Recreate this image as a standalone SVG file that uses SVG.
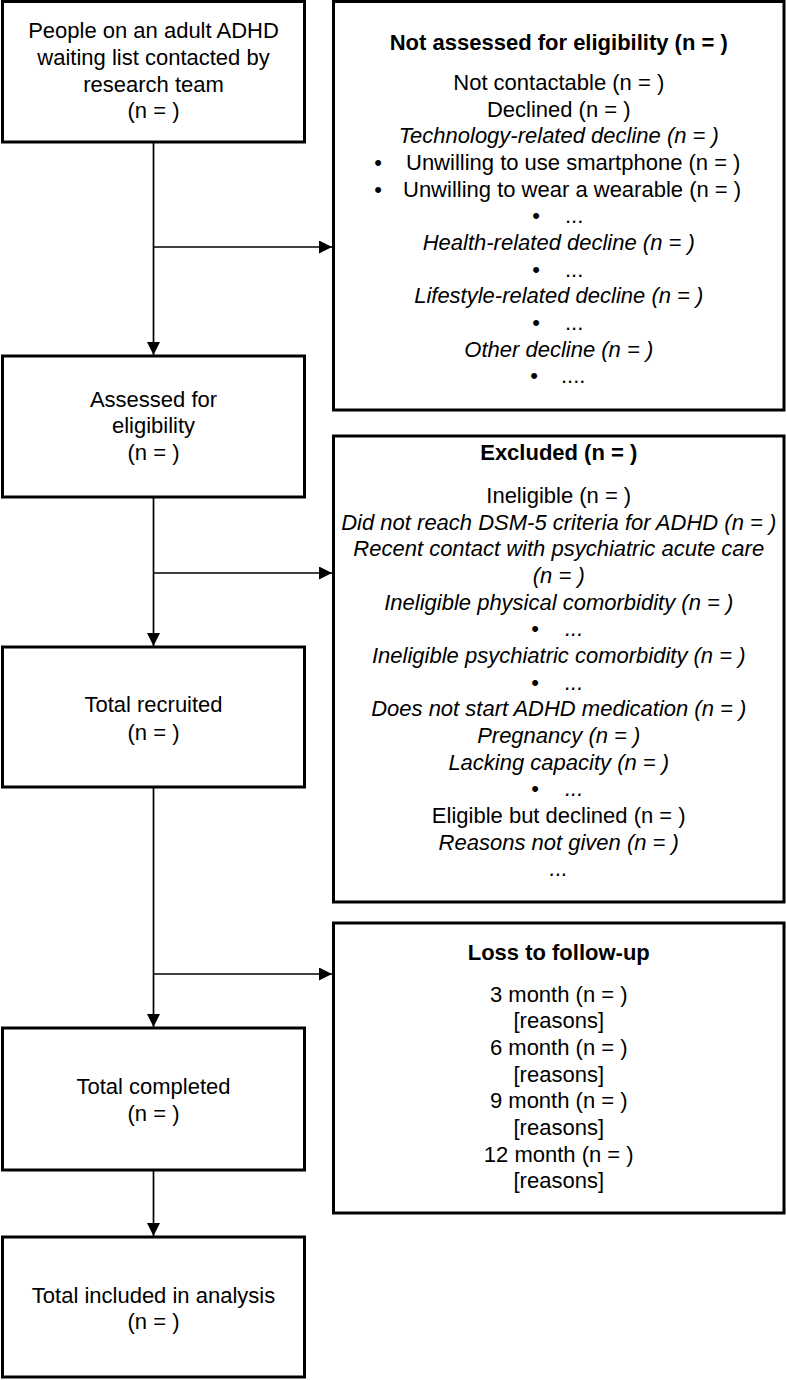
<svg xmlns="http://www.w3.org/2000/svg" width="786" height="1380" viewBox="0 0 786 1380">
<style>
text{font-family:"Liberation Sans",Arial,sans-serif;font-size:22px;fill:#000}
.c{text-anchor:middle}
.b{font-weight:bold}
.i{font-style:italic}
.box{fill:#fff;stroke:#000;stroke-width:3}
.con{fill:none;stroke:#000;stroke-width:1.7}
</style>
<defs>
<marker id="ah" markerUnits="userSpaceOnUse" markerWidth="13" markerHeight="13" refX="13" refY="6.5" orient="auto">
<path d="M0,0 L13,6.5 L0,13 z" fill="#000"/>
</marker>
</defs>
<rect width="786" height="1380" fill="#fff"/>
<g id="connectors">
<line class="con" x1="153.5" y1="142" x2="153.5" y2="355" marker-end="url(#ah)"/>
<line class="con" x1="153.5" y1="247" x2="332" y2="247" marker-end="url(#ah)"/>
<line class="con" x1="153.5" y1="497" x2="153.5" y2="646" marker-end="url(#ah)"/>
<line class="con" x1="153.5" y1="573" x2="332" y2="573" marker-end="url(#ah)"/>
<line class="con" x1="153.5" y1="787" x2="153.5" y2="1027" marker-end="url(#ah)"/>
<line class="con" x1="153.5" y1="974" x2="332" y2="974" marker-end="url(#ah)"/>
<line class="con" x1="153.5" y1="1170" x2="153.5" y2="1236" marker-end="url(#ah)"/>
</g>
<g id="contacted">
<rect class="box" x="2.5" y="1.5" width="302" height="140.5"/>
<text class="c" x="153.5" y="38">People on an adult ADHD</text>
<text class="c" x="153.5" y="65">waiting list contacted by</text>
<text class="c" x="153.5" y="92">research team</text>
<text class="c" x="153.5" y="118">(n = )</text>
</g>
<g id="assessed">
<rect class="box" x="2.5" y="356" width="302" height="141"/>
<text class="c" x="153.5" y="407">Assessed for</text>
<text class="c" x="153.5" y="433">eligibility</text>
<text class="c" x="153.5" y="460">(n = )</text>
</g>
<g id="recruited">
<rect class="box" x="2.5" y="647" width="302" height="140"/>
<text class="c" x="153.5" y="712">Total recruited</text>
<text class="c" x="153.5" y="740">(n = )</text>
</g>
<g id="completed">
<rect class="box" x="2.5" y="1028" width="302" height="142"/>
<text class="c" x="153.5" y="1094">Total completed</text>
<text class="c" x="153.5" y="1121">(n = )</text>
</g>
<g id="analysis">
<rect class="box" x="2.5" y="1237" width="302" height="140"/>
<text class="c" x="153.5" y="1303">Total included in analysis</text>
<text class="c" x="153.5" y="1329">(n = )</text>
</g>
<g id="not-assessed">
<rect class="box" x="333.5" y="1.5" width="450.5" height="408.5"/>
<text class="c b" x="558.75" y="50">Not assessed for eligibility (n = )</text>
<text class="c" x="558.75" y="90">Not contactable (n = )</text>
<text class="c" x="558.75" y="117">Declined (n = )</text>
<text class="c i" x="558.75" y="143">Technology-related decline (n = )</text>
<text class="c" x="378" y="170">•</text>
<text x="406" y="170">Unwilling to use smartphone (n = )</text>
<text class="c" x="378" y="197">•</text>
<text x="403" y="197">Unwilling to wear a wearable (n = )</text>
<text class="c" x="536" y="223">•</text>
<text x="565" y="223">...</text>
<text class="c i" x="558.75" y="250">Health-related decline (n = )</text>
<text class="c" x="536" y="277">•</text>
<text x="565" y="277">...</text>
<text class="c i" x="558.75" y="303">Lifestyle-related decline (n = )</text>
<text class="c" x="536" y="330">•</text>
<text x="565" y="330">...</text>
<text class="c i" x="558.75" y="357">Other decline (n = )</text>
<text class="c" x="534" y="383">•</text>
<text x="561" y="383">....</text>
</g>
<g id="excluded">
<rect class="box" x="333.5" y="436" width="450.5" height="466"/>
<text class="c b" x="558.75" y="460">Excluded (n = )</text>
<text class="c" x="558.75" y="503">Ineligible (n = )</text>
<text class="c i" x="558.75" y="530">Did not reach DSM-5 criteria for ADHD (n = )</text>
<text class="c i" x="558.75" y="556">Recent contact with psychiatric acute care</text>
<text class="c i" x="558.75" y="583">(n = )</text>
<text class="c i" x="558.75" y="610">Ineligible physical comorbidity (n = )</text>
<text class="c" x="535" y="636">•</text>
<text class="i" x="565" y="636">...</text>
<text class="c i" x="558.75" y="663">Ineligible psychiatric comorbidity (n = )</text>
<text class="c" x="535" y="690">•</text>
<text class="i" x="565" y="690">...</text>
<text class="c i" x="558.75" y="716">Does not start ADHD medication (n = )</text>
<text class="c i" x="558.75" y="743">Pregnancy (n = )</text>
<text class="c i" x="558.75" y="770">Lacking capacity (n = )</text>
<text class="c" x="535" y="796">•</text>
<text class="i" x="565" y="796">...</text>
<text class="c" x="558.75" y="823">Eligible but declined (n = )</text>
<text class="c i" x="558.75" y="850">Reasons not given (n = )</text>
<text class="c i" x="558.75" y="876">...</text>
</g>
<g id="loss">
<rect class="box" x="333.5" y="923" width="450.5" height="290"/>
<text class="c b" x="558.75" y="960">Loss to follow-up</text>
<text class="c" x="558.75" y="1002">3 month (n = )</text>
<text class="c" x="558.75" y="1028">[reasons]</text>
<text class="c" x="558.75" y="1055">6 month (n = )</text>
<text class="c" x="558.75" y="1082">[reasons]</text>
<text class="c" x="558.75" y="1108">9 month (n = )</text>
<text class="c" x="558.75" y="1135">[reasons]</text>
<text class="c" x="558.75" y="1162">12 month (n = )</text>
<text class="c" x="558.75" y="1188">[reasons]</text>
</g>
</svg>
